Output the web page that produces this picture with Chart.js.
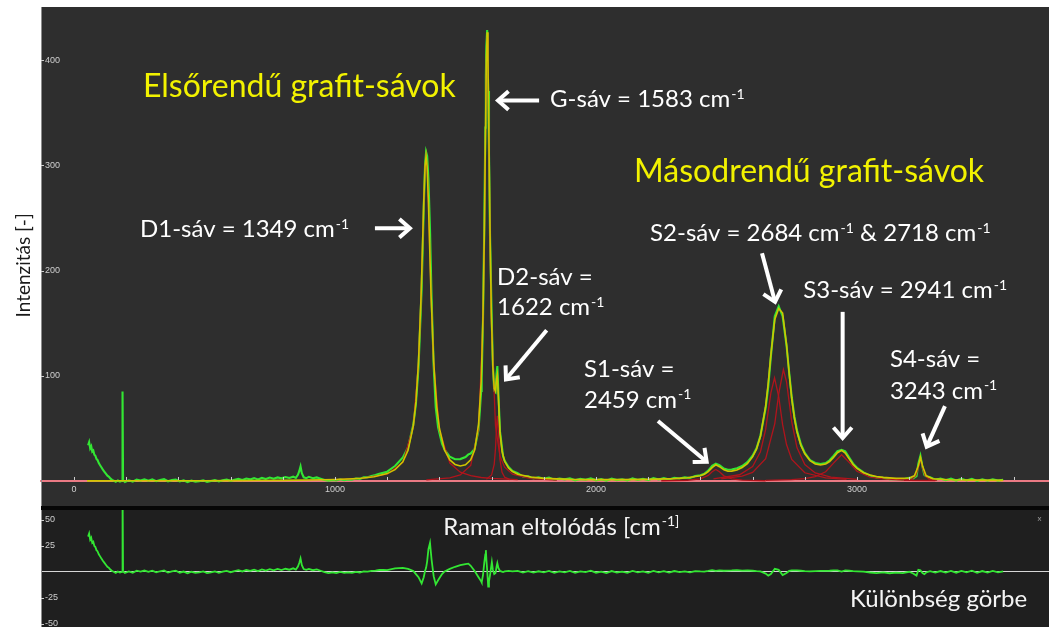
<!DOCTYPE html>
<html>
<head>
<meta charset="utf-8">
<script src="https://cdn.jsdelivr.net/npm/chart.js@4.4.1/dist/chart.umd.min.js"></script>
<style>
  html, body { margin: 0; padding: 0; background: #ffffff; width: 1049px; height: 627px; overflow: hidden; }
  #spectrumBox { position: absolute; left: 0; top: 7px; width: 1049px; height: 499px; }
  #gap { position: absolute; left: 41px; top: 506px; width: 1008px; height: 4px; background: #070707; }
  #residualBox { position: absolute; left: 0; top: 510px; width: 1049px; height: 117px; }
</style>
</head>
<body>
<div id="spectrumBox"><canvas id="spectrum"></canvas></div>
<div id="gap"></div>
<div id="residualBox"><canvas id="residual"></canvas></div>
<script>
// ---- Measured spectrum (Raman shift in cm-1) and its fit residual ----
const ramanShift = [
  54,58,62,66,70,74,78,82,86,90,
  95,100,105,110,116,122,128,134,140,146,
  152,160,168,176,184,186,188,195,210,225,
  240,255,270,285,300,315,330,345,360,375,
  390,405,420,435,450,465,480,495,510,525,
  540,555,570,585,600,615,630,645,660,675,
  690,705,720,735,750,765,780,795,810,825,
  840,850,858,863,868,873,880,890,900,915,
  930,945,960,975,990,1005,1020,1035,1050,1065,
  1080,1095,1110,1125,1140,1155,1170,1185,1200,1230,
  1260,1280,1300,1310,1320,1332,1340,1345,1349,1353,
  1358,1364,1370,1378,1386,1395,1410,1420,1440,1460,
  1480,1500,1511,1520,1535,1550,1560,1562,1567,1572,
  1576,1578,1580,1583,1587,1590,1594,1601,1605,1610,
  1615,1619,1622,1626,1632,1644,1650,1665,1680,1700,
  1720,1740,1760,1780,1800,1820,1840,1860,1880,1900,
  1920,1940,1960,1980,2000,2020,2040,2060,2080,2100,
  2120,2140,2160,2180,2200,2220,2240,2260,2280,2300,
  2320,2340,2360,2380,2400,2415,2430,2445,2459,2473,
  2490,2505,2520,2540,2560,2580,2600,2615,2630,2650,
  2660,2670,2685,2700,2715,2730,2740,2750,2760,2770,
  2785,2800,2820,2840,2860,2880,2895,2910,2925,2941,
  2955,2970,2985,3000,3025,3050,3075,3100,3125,3150,
  3175,3200,3215,3228,3235,3243,3251,3258,3265,3280,
  3300,3320,3340,3360,3380,3400,3420,3440,3460,3480,
  3500,3520,3540,3560
];
const measured = [
  34,37,31,33,28,29,25,24,21,20,
  17,15,13,11,9,7,5,4,2.2,1,
  0.3,-0.8,0.5,-0.5,0.2,85,0.8,-0.9,0.6,-0.6,
  1.3,0.4,1.6,0.3,1.5,-0.2,0.9,1.7,-0.3,0.8,
  1.4,-0.5,0.6,-1.0,0.4,-0.7,-0.2,0.7,-0.8,-0.1,
  0.8,-0.5,0.6,1.3,0.1,1.2,2.1,0.9,2.3,1.5,
  2.7,1.4,2.9,1.9,3.2,2.1,3.4,2.5,3.7,2.8,
  4.1,2.9,5.8,9.3,13.8,7.3,3.5,2.7,3.9,2.6,
  3.4,2.2,1.0,0.2,0.9,0.4,1.6,0.8,1.5,1.2,
  2.4,2.0,3.4,3.6,4.8,5.6,6.8,7.8,8.8,14.2,
  22.3,32.1,53.4,73.2,108.3,182.7,259.8,300.1,312.9,309.2,
  286.9,239.2,174.3,109.6,70,51,35.4,29.8,23,20.7,
  20.8,22.8,25.3,26.1,30.5,48.5,85.5,97.9,153,242.5,
  336,384.9,414,428.7,370.9,311.4,232.6,148.1,110.3,85.8,
  84.4,101.9,109.3,83.6,47.4,23.5,19.2,13.3,9.5,7.45,
  4.2,4.5,2.4,3.5,2.1,3.3,1.3,2.4,1.5,2.6,
  0.6,2.0,1.2,2.55,0.6,1.7,0.3,2.2,0.8,1.6,
  0.45,2.4,1.0,2.05,0.7,2.7,1.45,2.7,1.4,3.1,
  2.3,3.4,2.9,4.8,5.5,6.8,9.9,14.5,16.4,15.1,
  11.8,10.7,10.9,12.2,14.2,18,24.1,31.1,43,69.6,
  89.9,118.2,156.6,166,156.7,128.8,103.4,79.6,61.3,48.2,
  34.9,26.6,19.9,17.1,16.2,17.1,19.7,23.8,28.4,29.5,
  28.1,22.2,16.5,12.5,8.2,5.1,3.3,3.1,1.7,1.9,
  1.4,3.0,2.4,4.5,16.3,23.9,13.2,5.8,4.4,3.5,
  1.2,2.3,0.7,2.15,0.35,2.1,0.55,2.05,0.0,1.65,
  0.2,1.65,0.32,1.2
];
const residual = [
  34,37,31,33,28,29,25,24,21,20,
  17,15,13,11,9,7,5,4,2.1,0.9,
  0.2,-0.9,0.4,-0.6,0.1,85,0.7,-1.0,0.5,-0.7,
  1.2,0.3,1.4,0.1,1.3,-0.4,0.7,1.5,-0.5,0.6,
  1.2,-0.7,0.4,-1.2,0.2,-0.9,-0.4,0.5,-1.0,-0.4,
  0.5,-0.8,0.3,1.0,-0.2,0.9,1.7,0.5,1.9,1.1,
  2.3,0.9,2.4,1.4,2.7,1.6,2.9,1.9,3.1,2.2,
  3.5,2.3,5.2,8.6,13.1,6.6,2.8,2.0,3.0,1.7,
  2.4,1.2,-0.1,-1.0,-0.4,-1.0,0.1,-0.8,-0.4,-0.9,
  0.1,-0.5,0.6,0.3,1.0,1.4,1.9,2.0,1.8,3.5,
  4,3,1,-2,-5,-11,-5,1,4,10,
  22,28,12,-4,-12,-8,-2,0.5,3,5,
  6.5,7.5,8,6,1,-5,-9,-10,-3,9,
  17,21,12,2,-14,-9,-3,9.5,2,-2,
  -1,5,8.5,4,1,0,0.5,1,0.5,1,
  -0.5,0.8,-0.6,0.7,-0.4,1.0,-0.8,0.5,-0.3,1.1,
  -0.9,0.6,-0.2,1.2,-0.7,0.4,-1.0,0.9,-0.5,0.3,
  -0.9,1.0,-0.4,0.6,-0.8,1.1,-0.3,0.8,-0.6,0.9,
  -0.2,0.6,-0.4,0.8,0.5,0.4,1.0,1.8,1.0,1.5,
  1.2,1.4,1.5,1.8,1.4,1.5,1.2,0.8,0.5,-1.5,
  -3.5,-2,3,2,-3,-1,1,1.5,1.5,1.6,
  1.2,0.8,0.5,0.9,1.0,1.0,1.2,1.5,1.5,0.4,
  1.6,1.2,0.8,0.6,0.3,-0.5,-1.0,-0.3,-1.2,-0.6,
  -1.1,0.2,-1.5,-3.5,2,1.5,-1,-2,-0.5,0.8,
  -0.5,0.9,-0.6,1.0,-0.7,1.1,-0.4,1.2,-0.8,0.9,
  -0.5,1.0,-0.3,0.6
];

// ---- Total fitted curve ----
const fitShift = [
  50,100,200,300,400,500,600,700,800,900,
  1000,1050,1100,1150,1200,1230,1260,1280,1300,1310,
  1320,1330,1335,1340,1345,1349,1353,1358,1363,1368,
  1378,1390,1400,1420,1440,1460,1480,1500,1520,1535,
  1550,1560,1567,1572,1576,1580,1583,1586,1590,1594,
  1599,1605,1610,1615,1619,1622,1626,1632,1640,1650,
  1665,1680,1700,1750,1800,1900,2000,2100,2200,2300,
  2350,2400,2415,2430,2445,2459,2473,2490,2505,2520,
  2540,2560,2580,2600,2615,2630,2650,2660,2670,2685,
  2700,2715,2730,2740,2750,2760,2770,2785,2800,2820,
  2840,2860,2880,2895,2910,2925,2941,2955,2970,2985,
  3000,3025,3050,3075,3100,3150,3200,3220,3235,3243,
  3251,3265,3290,3350,3450,3560
];
const fitTotal = [
  0.1,0.1,0.14,0.17,0.2,0.26,0.33,0.45,0.6,0.9,
  1.4,1.9,2.65,4.0,7.0,10.7,18.3,29.1,52.4,75.2,
  113.3,177.2,220,264.8,299.1,308.9,299.2,264.9,220.2,177.5,
  113.6,70.5,50.1,29.3,20,15.7,14.2,15.3,20.1,29.4,
  53.5,94.5,156,233.5,319.2,401.7,426.7,402.2,320.4,235.6,
  159.7,108.3,87.8,85.4,96.9,100.8,79.6,46.4,28.2,18.7,
  12.3,9.0,6.45,3.7,2.5,1.5,1.3,1.3,1.5,2.2,
  3.0,5.0,6.4,8.9,12.7,15.4,13.6,10.6,9.3,9.4,
  10.4,12.8,16.5,22.9,30.3,42.5,71.1,93.4,120.2,153.6,
  164,159.7,129.8,102.4,78.1,59.8,46.6,33.7,25.8,19.4,
  16.2,15.2,16.1,18.5,22.3,26.9,29.1,26.5,21,15.7,
  11.9,7.9,5.6,4.3,3.4,2.5,2.8,4.9,14.3,22.4,
  14.2,4.9,2.1,1.2,0.8,0.6
];

// ---- Individual fitted bands ----
const d1Shift  = [1000,1100,1200,1260,1300,1320,1330,1340,1345,1349,1353,1358,1368,1378,1400,1440,1480,1520,1560,1600,1700];
const d1Band   = [1.2,2.4,6.6,17.7,51.7,112.5,176.4,263.9,298.2,308,298.2,263.9,176.4,112.5,48.3,17,8.4,5.0,3.3,2.5,1.2];
const gShift   = [1350,1440,1480,1520,1550,1567,1572,1576,1580,1583,1586,1590,1594,1599,1615,1632,1650,1680,1750,1850];
const gBand    = [1.1,3.0,5.7,14.8,49.3,151.9,229.3,314.9,397.2,422,397.2,314.9,229.3,151.9,52,23.8,13.1,6.4,2.2,0.9];
const d2Shift  = [1580,1600,1610,1615,1619,1622,1626,1632,1640,1650,1670];
const d2Band   = [1.7,5.7,15.8,31,52.4,62,46.8,20.4,8.2,3.6,1.3];
const s1Shift  = [2250,2350,2400,2430,2445,2459,2473,2490,2520,2560,2650];
const s1Band   = [0.2,0.7,2.0,5.3,8.8,11,8.8,4.9,1.9,0.8,0.2];
const s2aShift = [2450,2550,2600,2630,2650,2670,2684,2700,2715,2730,2750,2800,2880,2960];
const s2aBand  = [2.0,5.9,13.8,27.8,49,83.8,98,80.3,53.5,34.6,20.5,7.8,2.9,1.5];
const s2bShift = [2480,2560,2600,2650,2685,2700,2718,2730,2750,2770,2800,2840,2900,3000];
const s2bBand  = [2.1,4.7,8.1,21.2,54.6,82.8,106,94.2,56.2,31.7,15.6,7.6,3.6,1.5];
const s3Shift  = [2650,2750,2800,2840,2880,2910,2941,2970,3000,3050,3100,3200,3300];
const s3Band   = [0.6,1.3,2.3,4.1,8.8,17,25,17.7,9.2,3.6,1.9,0.7,0.4];
const s4Shift  = [3180,3210,3225,3235,3243,3251,3261,3276,3306];
const s4Band   = [0.5,1.8,5.0,12.8,21,12.8,5.0,1.8,0.5];

// ---- Axis ranges and tick steps ----
const X_MIN = -126.4, X_MAX = 3735.6;
const Y_MIN = -23.8, Y_MAX = 450.7, Y_STEP = 100;
const R_MIN = -52.9, R_MAX = 59.6, R_STEP = 25;
const X_STEP = 200, X_LABEL_EVERY = 1000;

// ---- Annotation texts (placed in data coordinates; ^ marks a superscript) ----
const ANN_FONT = 'Lato, "Open Sans", sans-serif';
const spectrumTexts = [
  { t: 'Elsőrendű grafit-sávok', x: 264, y: 364.9, size: 32, color: '#f2f200' },
  { t: 'Másodrendű grafit-sávok', x: 2146, y: 284, size: 32, color: '#f2f200' },
  { t: 'G-sáv = 1583 cm^-1', x: 1824, y: 355.2, size: 24, color: '#ffffff' },
  { t: 'D1-sáv = 1349 cm^-1', x: 253, y: 231.8, size: 24, color: '#ffffff' },
  { t: 'D2-sáv =', x: 1621, y: 186.1, size: 24, color: '#ffffff' },
  { t: '1622 cm^-1', x: 1621, y: 157.6, size: 24, color: '#ffffff' },
  { t: 'S1-sáv =', x: 1954, y: 98.5, size: 24, color: '#ffffff' },
  { t: '2459 cm^-1', x: 1954, y: 69.3, size: 24, color: '#ffffff' },
  { t: 'S2-sáv = 2684 cm^-1 & 2718 cm^-1', x: 2207, y: 227.9, size: 24, color: '#ffffff' },
  { t: 'S3-sáv = 2941 cm^-1', x: 2794, y: 173.8, size: 24, color: '#ffffff' },
  { t: 'S4-sáv =', x: 3126, y: 108.3, size: 24, color: '#ffffff' },
  { t: '3243 cm^-1', x: 3126, y: 77.9, size: 24, color: '#ffffff' }
];
const spectrumArrows = [
  { from: [1782, 361.8], to: [1624.5, 361.8] },
  { from: [1153, 240.3], to: [1287, 240.3] },
  { from: [1811, 143.4], to: [1655, 96.6] },
  { from: [2237.5, 57], to: [2424, 18.3] },
  { from: [2636, 216.5], to: [2686, 170.3] },
  { from: [2945, 160.8], to: [2945, 40.8] },
  { from: [3337, 71.2], to: [3267, 32.6] }
];
const residualTexts = [
  { t: 'Raman eltolódás [cm^-1]', x: 1415, y: 35.6, size: 24, color: '#f4f4f4' },
  { t: 'Különbség görbe', x: 2973, y: -33.4, size: 24, color: '#f4f4f4' },
  { t: 'x', x: 3692, y: 49, size: 8, color: '#9a9a9a' }
];
const yTitle = { t: 'Intenzitás [-]', y: 205 };

// ---- Colours ----
const C_MEAS = '#33e633', C_FIT = '#d0c400', C_BAND = '#b0141c', C_BASE = '#ea7a84';
const TICK_COLOR = '#cfcfcf';
const TICK_FONT = { family: '"Liberation Sans", Arial, sans-serif', size: 9 };

function toPoints(xs, ys) { return xs.map((x, i) => ({ x: x, y: ys[i] })); }

function drawRich(ctx, text, x, y, size, color) {
  const parts = text.split(/(\^\S+)/).filter(Boolean);
  let cx = x;
  ctx.fillStyle = color;
  ctx.textAlign = 'left';
  ctx.textBaseline = 'alphabetic';
  for (const p of parts) {
    if (p[0] === '^') {
      const s = Math.round(size * 0.6);
      ctx.font = s + 'px ' + ANN_FONT;
      const str = p.slice(1);
      ctx.fillText(str, cx + 1, y - size * 0.36);
      cx += ctx.measureText(str).width + 1;
    } else {
      ctx.font = size + 'px ' + ANN_FONT;
      ctx.fillText(p, cx, y);
      cx += ctx.measureText(p).width;
    }
  }
}

function drawArrow(ctx, x1, y1, x2, y2) {
  const ang = Math.atan2(y2 - y1, x2 - x1);
  const head = 14, spread = 0.72;
  ctx.save();
  ctx.strokeStyle = '#ffffff';
  ctx.lineWidth = 4;
  ctx.lineCap = 'butt';
  ctx.lineJoin = 'miter';
  ctx.beginPath();
  ctx.moveTo(x1, y1);
  ctx.lineTo(x2 - Math.cos(ang) * 2, y2 - Math.sin(ang) * 2);
  ctx.stroke();
  ctx.beginPath();
  ctx.moveTo(x2 - head * Math.cos(ang - spread), y2 - head * Math.sin(ang - spread));
  ctx.lineTo(x2, y2);
  ctx.lineTo(x2 - head * Math.cos(ang + spread), y2 - head * Math.sin(ang + spread));
  ctx.stroke();
  ctx.restore();
}

// Fills the plotting area with the panel colour
const panelBackground = {
  id: 'panelBackground',
  beforeDraw(chart, args, opts) {
    const { ctx, chartArea: a } = chart;
    ctx.save();
    ctx.fillStyle = opts.color;
    ctx.fillRect(a.left, a.top, a.right - a.left, a.bottom - a.top);
    ctx.restore();
  }
};

// Short tick marks drawn inside the plotting area
const innerTicks = {
  id: 'innerTicks',
  afterDraw(chart, args, opts) {
    const { ctx, chartArea: a, scales } = chart;
    ctx.save();
    ctx.strokeStyle = TICK_COLOR;
    ctx.lineWidth = 1;
    const y = scales.y;
    y.ticks.forEach(tk => {
      if (tk.value === 0) return;
      const py = Math.round(y.getPixelForValue(tk.value)) + 0.5;
      ctx.beginPath(); ctx.moveTo(a.left, py); ctx.lineTo(a.left + 3, py); ctx.stroke();
    });
    if (opts.xTicks) {
      const x = scales.x;
      const y0 = y.getPixelForValue(0);
      x.ticks.forEach(tk => {
        const px = Math.round(x.getPixelForValue(tk.value)) + 0.5;
        ctx.beginPath(); ctx.moveTo(px, y0 - 1); ctx.lineTo(px, y0 - 4); ctx.stroke();
      });
    }
    ctx.restore();
  }
};

// Band labels, arrows and panel captions
const captions = {
  id: 'captions',
  afterDraw(chart, args, opts) {
    const { ctx, scales: { x, y }, chartArea: a } = chart;
    ctx.save();
    (opts.arrows || []).forEach(ar => {
      drawArrow(ctx, x.getPixelForValue(ar.from[0]), y.getPixelForValue(ar.from[1]),
                     x.getPixelForValue(ar.to[0]), y.getPixelForValue(ar.to[1]));
    });
    (opts.texts || []).forEach(tx => {
      drawRich(ctx, tx.t, x.getPixelForValue(tx.x), y.getPixelForValue(tx.y), tx.size, tx.color);
    });
    if (opts.yTitle) {
      ctx.translate(a.left - 17, y.getPixelForValue(opts.yTitle.y));
      ctx.rotate(-Math.PI / 2);
      ctx.font = '19px ' + ANN_FONT;
      ctx.fillStyle = '#1a1a1a';
      ctx.textAlign = 'center';
      ctx.textBaseline = 'middle';
      ctx.fillText(opts.yTitle.t, 0, 0);
    }
    ctx.restore();
  }
};

function bandSet(xs, ys) {
  return { data: toPoints(xs, ys), borderColor: C_BAND, borderWidth: 1.3 };
}

const fixAxis = scale => { scale.width = 41; scale.paddingTop = 0; scale.paddingBottom = 0; };

new Chart(document.getElementById('spectrum'), {
  type: 'line',
  data: {
    datasets: [
      { data: toPoints(fitShift, fitTotal), borderColor: C_FIT, borderWidth: 1.6 },
      bandSet(d1Shift, d1Band),
      bandSet(gShift, gBand),
      bandSet(d2Shift, d2Band),
      bandSet(s1Shift, s1Band),
      bandSet(s2aShift, s2aBand),
      bandSet(s2bShift, s2bBand),
      bandSet(s3Shift, s3Band),
      bandSet(s4Shift, s4Band),
      { data: toPoints(ramanShift, measured), borderColor: C_MEAS, borderWidth: 2.1 }
    ]
  },
  options: {
    responsive: true,
    maintainAspectRatio: false,
    animation: false,
    parsing: false,
    layout: { padding: 0 },
    elements: { point: { radius: 0 }, line: { tension: 0, fill: false } },
    plugins: {
      legend: { display: false },
      tooltip: { enabled: false },
      panelBackground: { color: '#2e2e2e' },
      innerTicks: { xTicks: true },
      captions: { texts: spectrumTexts, arrows: spectrumArrows, yTitle: yTitle }
    },
    scales: {
      x: {
        type: 'linear', min: X_MIN, max: X_MAX,
        position: { y: 0 },
        border: { display: true, color: C_BASE, width: 2 },
        grid: { display: false, drawTicks: false },
        ticks: {
          stepSize: X_STEP, includeBounds: false, autoSkip: false, maxRotation: 0,
          color: TICK_COLOR, font: TICK_FONT, padding: 3,
          callback: v => (v % X_LABEL_EVERY === 0 ? String(v) : '')
        }
      },
      y: {
        type: 'linear', min: Y_MIN, max: Y_MAX, position: 'left',
        border: { display: true, color: '#8c8c8c', width: 1 },
        grid: { display: false, drawTicks: false },
        ticks: {
          stepSize: Y_STEP, includeBounds: false, mirror: true, padding: 4,
          color: TICK_COLOR, font: TICK_FONT,
          callback: v => (v === 0 ? '' : String(v))
        },
        afterFit: fixAxis
      }
    }
  },
  plugins: [panelBackground, innerTicks, captions]
});

new Chart(document.getElementById('residual'), {
  type: 'line',
  data: {
    datasets: [
      { data: toPoints(ramanShift, residual), borderColor: C_MEAS, borderWidth: 1.8 }
    ]
  },
  options: {
    responsive: true,
    maintainAspectRatio: false,
    animation: false,
    parsing: false,
    layout: { padding: 0 },
    elements: { point: { radius: 0 }, line: { tension: 0, fill: false } },
    plugins: {
      legend: { display: false },
      tooltip: { enabled: false },
      panelBackground: { color: '#1f1f1f' },
      innerTicks: { xTicks: false },
      captions: { texts: residualTexts }
    },
    scales: {
      x: { type: 'linear', min: X_MIN, max: X_MAX, display: false },
      y: {
        type: 'linear', min: R_MIN, max: R_MAX, position: 'left',
        border: { display: true, color: '#8c8c8c', width: 1 },
        grid: {
          drawTicks: false, lineWidth: 1,
          color: c => (c.tick && c.tick.value === 0 ? '#d6d6d6' : 'rgba(0,0,0,0)')
        },
        ticks: {
          stepSize: R_STEP, includeBounds: false, mirror: true, padding: 4,
          color: TICK_COLOR, font: TICK_FONT,
          callback: v => (v === 0 ? '' : String(v))
        },
        afterFit: fixAxis
      }
    }
  },
  plugins: [panelBackground, innerTicks, captions]
});
</script>
</body>
</html>
